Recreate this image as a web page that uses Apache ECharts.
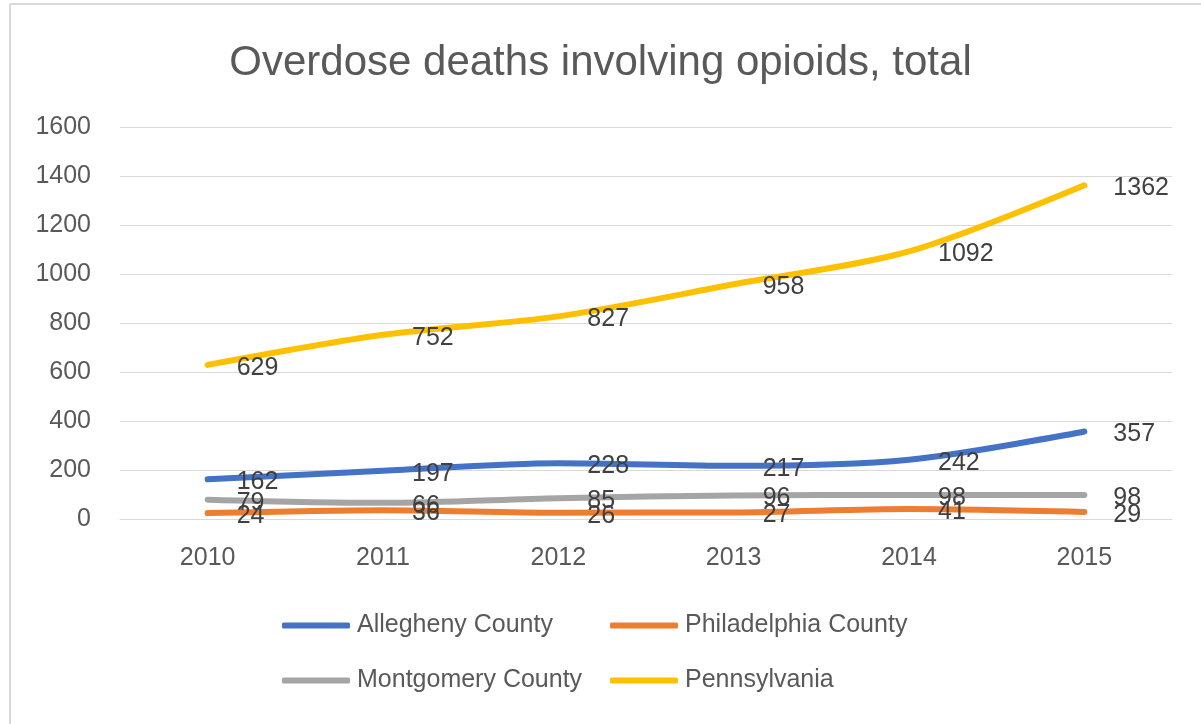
<!DOCTYPE html>
<html>
<head>
<meta charset="utf-8">
<script src="https://cdn.jsdelivr.net/npm/echarts@6/dist/echarts.min.js"></script>
<style>
    html, body { margin: 0; padding: 0; background: #fff; }
    #chart { width: 1201px; height: 724px; }
</style>
</head>
<body>
<div id="chart"></div>
<script>
var years = ['2010', '2011', '2012', '2013', '2014', '2015'];
var allegheny = [162, 197, 228, 217, 242, 357];
var philadelphia = [24, 36, 26, 27, 41, 29];
var montgomery = [79, 66, 85, 96, 98, 98];
var pennsylvania = [629, 752, 827, 958, 1092, 1362];

var font = 'Liberation Sans, Arial, sans-serif';

function lineSeries(name, color, data) {
    return {
        name: name,
        type: 'line',
        smooth: 0.3,
        symbol: 'circle',
        symbolSize: 0,
        showSymbol: true,
        data: data,
        lineStyle: { color: color, width: 6, cap: 'round' },
        itemStyle: { color: color },
        label: {
            show: true,
            position: 'right',
            distance: 29,
            offset: [0, 3],
            color: '#404040',
            fontSize: 25,
            fontFamily: font
        },
        emphasis: { disabled: true }
    };
}

// one legend per item so the columns line up like the Excel legend
function legendItem(name, left, top) {
    return {
        data: [name],
        left: left, top: top,
        padding: 0,
        itemWidth: 68, itemHeight: 6, itemGap: 0,
        icon: 'roundRect',
        textStyle: { color: '#595959', fontSize: 25, fontFamily: font, padding: [0, 0, 0, 2] }
    };
}

var myChart = echarts.init(document.getElementById('chart'));
var option = {
    backgroundColor: '#fff',
    animation: false,
    title: {
        text: 'Overdose deaths involving opioids, total',
        left: 'center',
        top: 37,
        textStyle: { color: '#595959', fontSize: 42, fontWeight: 'normal', fontFamily: font }
    },
    graphic: [
        { type: 'line', shape: { x1: 10, y1: 4, x2: 1201, y2: 4 }, style: { stroke: '#D9D9D9', lineWidth: 2 } },
        { type: 'line', shape: { x1: 10, y1: 4, x2: 10, y2: 724 }, style: { stroke: '#D9D9D9', lineWidth: 2 } }
    ],
    grid: { left: 120, right: 29, top: 127, height: 392 },
    legend: [
        legendItem('Allegheny County', 282, 613),
        legendItem('Philadelphia County', 610, 613),
        legendItem('Montgomery County', 282, 668),
        legendItem('Pennsylvania', 610, 668)
    ],
    xAxis: {
        type: 'category',
        data: years,
        boundaryGap: true,
        axisLine: { show: true, lineStyle: { color: '#D9D9D9', width: 1 } },
        axisTick: { show: false },
        axisLabel: { color: '#595959', fontSize: 25, fontFamily: font, margin: 27 }
    },
    yAxis: {
        type: 'value',
        min: 0,
        max: 1600,
        interval: 200,
        axisLine: { show: false },
        axisTick: { show: false },
        axisLabel: {
            color: '#595959', fontSize: 25, fontFamily: font, margin: 29,
            formatter: function (v) { return String(v); }
        },
        splitLine: { lineStyle: { color: '#D9D9D9', width: 1 } }
    },
    series: [
        lineSeries('Allegheny County', '#4472C4', allegheny),
        lineSeries('Philadelphia County', '#ED7D31', philadelphia),
        lineSeries('Montgomery County', '#A5A5A5', montgomery),
        lineSeries('Pennsylvania', '#FFC000', pennsylvania)
    ]
};
myChart.setOption(option);
</script>
</body>
</html>
